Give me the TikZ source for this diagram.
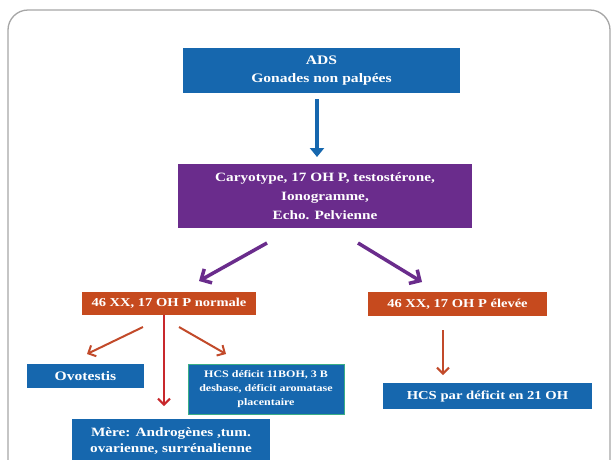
\documentclass[tikz,border=0pt]{standalone}
\usepackage{fontspec}
\setmainfont[FakeStretch=1.2]{Liberation Serif}
\usetikzlibrary{arrows.meta}
\definecolor{cblue}{HTML}{1667AE}
\definecolor{cpurple}{HTML}{6A2C8C}
\definecolor{corange}{HTML}{C64A1E}
\definecolor{cred}{HTML}{C8282C}
\definecolor{cbrown}{HTML}{C24A2A}
\definecolor{cteal}{HTML}{3BAE86}
\tikzset{
  box/.style={draw=none, text=white, font=\bfseries, align=center, inner sep=0pt, anchor=center},
  bluebox/.style={box, fill=cblue},
  purplebox/.style={box, fill=cpurple},
  orangebox/.style={box, fill=corange},
  bluearrow/.style={draw=cblue, line width=4.5pt, -{Triangle[length=9pt,width=14pt]}},
  purplearrow/.style={draw=cpurple, line width=3.5pt, -{Straight Barb[length=8pt,width=16pt,line width=3.5pt]}},
  redarrow/.style={draw=cred, line width=2pt, -{Straight Barb[length=6pt,width=12pt,line width=2pt]}},
  brownarrow/.style={draw=cbrown, line width=2pt, -{Straight Barb[length=6pt,width=12pt,line width=2pt]}},
}
\begin{document}
\begin{tikzpicture}[x=1pt,y=-1pt]
\useasboundingbox (0,0) rectangle (613,459);
\fill[white] (0,0) rectangle (613,459);
\draw[gray!70, line width=1.3pt, rounded corners=20pt] (8,480) -- (8,10) -- (610,10) -- (610,480);

\node[bluebox, minimum width=277pt, minimum height=45pt, font=\bfseries\fontsize{13}{18}\selectfont] (ads) at (321.5,70.5) {ADS\\Gonades non palpées};
\node[purplebox, minimum width=294pt, minimum height=64pt, font=\bfseries\fontsize{12.7}{19}\selectfont] (pur) at (325,196) {Caryotype, 17 OH P, testostérone,\\Ionogramme,\\Echo. Pelvienne};
\node[orangebox, minimum width=174pt, minimum height=23pt, font=\bfseries\fontsize{12.1}{15}\selectfont] (lo) at (169,303.5) {46 XX, 17 OH P normale};
\node[orangebox, minimum width=179pt, minimum height=24pt, font=\bfseries\fontsize{12.1}{15}\selectfont] (ro) at (457.5,304) {46 XX, 17 OH P élevée};
\node[bluebox, minimum width=117pt, minimum height=24pt, font=\bfseries\fontsize{13}{15}\selectfont] (ovo) at (85.5,376) {Ovotestis};
\node[bluebox, draw=cteal, line width=1pt, minimum width=156pt, minimum height=50pt, font=\bfseries\fontsize{10}{14}\selectfont] (hcsa) at (266,389) {HCS déficit 11BOH, 3 B\\deshase, déficit aromatase\\placentaire};
\node[bluebox, minimum width=198pt, minimum height=44pt, font=\bfseries\fontsize{12.7}{16.5}\selectfont] (mere) at (171,441) {Mère: Androgènes ,tum.\\ovarienne, surrénalienne};
\node[bluebox, minimum width=209pt, minimum height=26pt, font=\bfseries\fontsize{12.2}{15}\selectfont] (hcsb) at (487.5,396) {HCS par déficit en 21 OH};

\coordinate (a1s) at (317,99);
\coordinate (a1e) at (317,157);
\draw[bluearrow] (a1s) -- (a1e);

\coordinate (p1s) at (267,243);
\coordinate (p1e) at (199,281);
\draw[purplearrow] (p1s) -- (p1e);
\coordinate (p2s) at (358,243);
\coordinate (p2e) at (422,282);
\draw[purplearrow] (p2s) -- (p2e);

\coordinate (r1s) at (143,327);
\coordinate (r1e) at (87,354);
\draw[brownarrow] (r1s) -- (r1e);
\coordinate (r2s) at (179,327);
\coordinate (r2e) at (226,354);
\draw[brownarrow] (r2s) -- (r2e);
\draw[redarrow] (lo.south -| 164,0) -- (164,406);
\coordinate (r4s) at (443,330);
\coordinate (r4e) at (443,375);
\draw[brownarrow, line width=1.8pt] (r4s) -- (r4e);
\end{tikzpicture}
\end{document}
